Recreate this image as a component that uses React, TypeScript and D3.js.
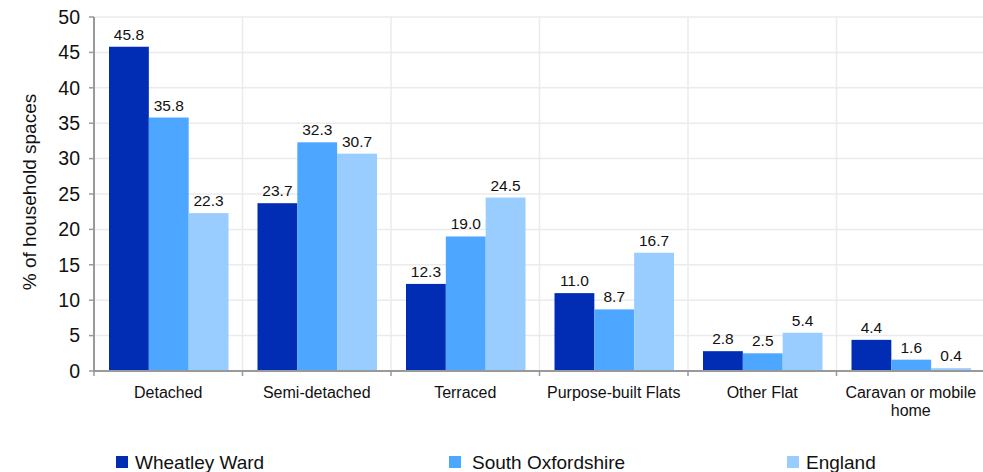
import React from "react";
import * as d3 from "d3";

const categories = ["Detached", "Semi-detached", "Terraced", "Purpose-built Flats", "Other Flat", "Caravan or mobile home"];
const seriesNames = ["Wheatley Ward", "South Oxfordshire", "England"];
const wheatley = [45.8, 23.7, 12.3, 11.0, 2.8, 4.4];
const southOx = [35.8, 32.3, 19.0, 8.7, 2.5, 1.6];
const england = [22.3, 30.7, 24.5, 16.7, 5.4, 0.4];
const yTicks = [0, 5, 10, 15, 20, 25, 30, 35, 40, 45, 50];
const colors = ["#002DB3", "#4DA6FF", "#99CCFF"];

export default function App() {
  const W = 983, H = 472;
  const left = 94, right = 985, top = 17, bottom = 371;
  const series = [wheatley, southOx, england];
  const x = d3.scaleBand<string>().domain(categories).range([left, right]).paddingInner(0).paddingOuter(0);
  const y = d3.scaleLinear().domain([0, 50]).range([bottom, top]);
  const bw = x.bandwidth();
  const inner = d3.scaleBand<number>().domain([0, 1, 2]).range([15, bw - 14]).padding(0);
  const font = "Liberation Sans, Arial, sans-serif";
  const boundaries = categories.map((c) => x(c)!).concat([right]);
  const labelLines = (c: string) => (c === "Caravan or mobile home" ? ["Caravan or mobile", "home"] : [c]);
  const legendX = [116, 449, 787];
  const legendGap = [19, 23, 19];
  return (
    <svg width={W} height={H} style={{ position: "absolute", left: 0, top: 0 }} fontFamily={font}>
      <rect width={W} height={H} fill="#fff" />
      {yTicks.map((t) => (
        <line key={"h" + t} x1={left} x2={right} y1={y(t)} y2={y(t)} stroke="#ebebeb" strokeWidth={1.5} />
      ))}
      {boundaries.slice(1).map((b, i) => (
        <line key={"v" + i} x1={b} x2={b} y1={top} y2={bottom} stroke="#ebebeb" strokeWidth={1.5} />
      ))}
      {series.map((vals, si) =>
        vals.map((v, ci) => {
          const bx = x(categories[ci])! + inner(si)!;
          return (
            <g key={si + "-" + ci}>
              <rect x={bx} y={y(v)} width={inner.bandwidth()} height={bottom - y(v)} fill={colors[si]} />
              <text x={bx + inner.bandwidth() / 2} y={y(v) - 7} textAnchor="middle" fontSize={15.5} fill="#111">
                {v.toFixed(1)}
              </text>
            </g>
          );
        })
      )}
      <line x1={left} x2={left} y1={top} y2={bottom + 1} stroke="#999" strokeWidth={2} />
      <line x1={left - 1} x2={right} y1={bottom} y2={bottom} stroke="#999" strokeWidth={2} />
      {yTicks.map((t) => (
        <g key={"yt" + t}>
          <line x1={left - 5} x2={left} y1={y(t)} y2={y(t)} stroke="#999" strokeWidth={1.5} />
          <text x={left - 14} y={y(t)} dy="0.35em" textAnchor="end" fontSize={19.5} fill="#111">
            {t}
          </text>
        </g>
      ))}
      {boundaries.map((b, i) => (
        <line key={"xt" + i} x1={b} x2={b} y1={bottom} y2={bottom + 5} stroke="#999" strokeWidth={1.5} />
      ))}
      {categories.map((c) => (
        <text key={c} x={x(c)! + bw / 2} y={398} textAnchor="middle" fontSize={16} fill="#111">
          {labelLines(c).map((l, i) => (
            <tspan key={i} x={x(c)! + bw / 2} dy={i === 0 ? 0 : 18}>
              {l}
            </tspan>
          ))}
        </text>
      ))}
      <text transform={`translate(36,192) rotate(-90)`} textAnchor="middle" fontSize={19} fill="#111">
        % of household spaces
      </text>
      {seriesNames.map((n, i) => (
        <g key={n}>
          <rect x={legendX[i]} y={456} width={12} height={12} fill={colors[i]} />
          <text x={legendX[i] + legendGap[i]} y={469} fontSize={19} fill="#111">
            {n}
          </text>
        </g>
      ))}
    </svg>
  );
}
